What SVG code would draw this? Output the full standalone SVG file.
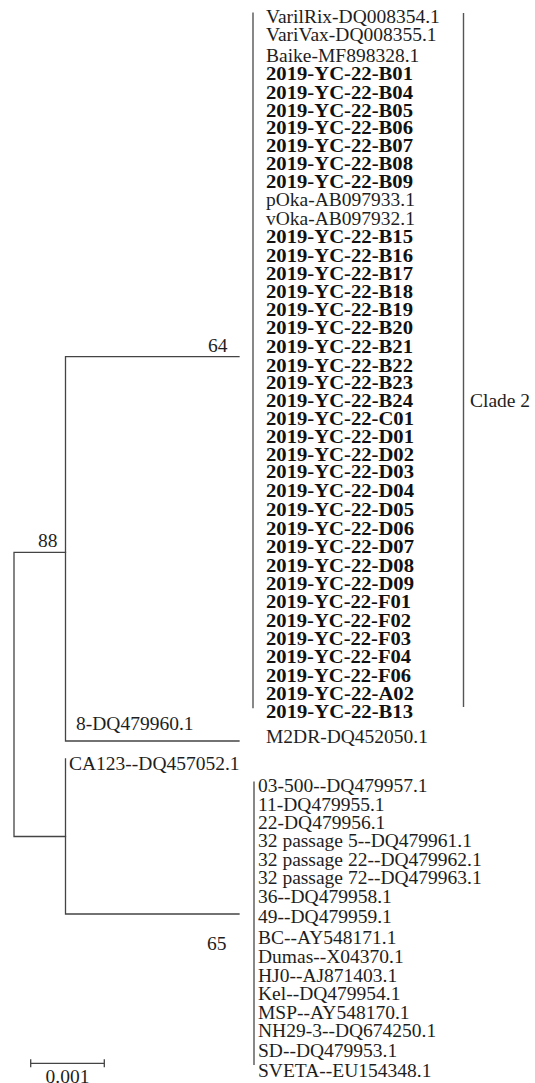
<svg xmlns="http://www.w3.org/2000/svg" width="535" height="1083" viewBox="0 0 535 1083">
<style>
.ln{stroke:#444;stroke-width:1.3;fill:none;stroke-linecap:square}
.bar{stroke:#555;stroke-width:1.4;fill:none}
.r{font-family:"Liberation Serif","Times New Roman",serif;font-size:19.5px;fill:#1e1e1e}
.b{font-family:"Liberation Serif","Times New Roman",serif;font-size:18.5px;font-weight:bold;fill:#111}
</style>
<rect width="535" height="1083" fill="#fff"/>
<g id="connectors">
<path class="ln" d="M14,552.3 V836.5 M14,552.3 H65.5 M14,836.5 H65.5"/>
<path class="ln" d="M65.5,356.7 V741 M65.5,356.7 H239 M65.5,741 H239"/>
<path class="ln" d="M65.5,759 V914 M65.5,914 H239"/>
<path class="bar" d="M253,12.5 V708.3"/>
<path class="bar" d="M463.5,13 V707"/>
<path class="bar" d="M254,781.5 V1065"/>
<path class="ln" d="M30.7,1063.3 H104.3 M30.7,1060 V1066.5 M104.3,1060 V1066.5"/>
</g>
<g id="support">
<text class="r" x="208" y="351.7">64</text>
<text class="r" x="38" y="546.7">88</text>
<text class="r" x="207" y="950">65</text>
</g>
<g id="clade2">
<text class="r" x="266" y="22.7">VarilRix-DQ008354.1</text>
<text class="r" x="266" y="41.3">VariVax-DQ008355.1</text>
<text class="r" x="266" y="61.5">Baike-MF898328.1</text>
<text class="b" x="266" y="80" textLength="147" lengthAdjust="spacingAndGlyphs">2019-YC-22-B01</text>
<text class="b" x="266" y="98.7" textLength="147" lengthAdjust="spacingAndGlyphs">2019-YC-22-B04</text>
<text class="b" x="266" y="116.7" textLength="147" lengthAdjust="spacingAndGlyphs">2019-YC-22-B05</text>
<text class="b" x="266" y="134.3" textLength="147" lengthAdjust="spacingAndGlyphs">2019-YC-22-B06</text>
<text class="b" x="266" y="152.3" textLength="147" lengthAdjust="spacingAndGlyphs">2019-YC-22-B07</text>
<text class="b" x="266" y="170" textLength="147" lengthAdjust="spacingAndGlyphs">2019-YC-22-B08</text>
<text class="b" x="266" y="188.3" textLength="147" lengthAdjust="spacingAndGlyphs">2019-YC-22-B09</text>
<text class="r" x="266" y="205.5">pOka-AB097933.1</text>
<text class="r" x="266" y="225">vOka-AB097932.1</text>
<text class="b" x="266" y="243.3" textLength="147" lengthAdjust="spacingAndGlyphs">2019-YC-22-B15</text>
<text class="b" x="266" y="261.7" textLength="147" lengthAdjust="spacingAndGlyphs">2019-YC-22-B16</text>
<text class="b" x="266" y="280" textLength="147" lengthAdjust="spacingAndGlyphs">2019-YC-22-B17</text>
<text class="b" x="266" y="298.3" textLength="147" lengthAdjust="spacingAndGlyphs">2019-YC-22-B18</text>
<text class="b" x="266" y="315.7" textLength="147" lengthAdjust="spacingAndGlyphs">2019-YC-22-B19</text>
<text class="b" x="266" y="334" textLength="147" lengthAdjust="spacingAndGlyphs">2019-YC-22-B20</text>
<text class="b" x="266" y="353.3" textLength="147" lengthAdjust="spacingAndGlyphs">2019-YC-22-B21</text>
<text class="b" x="266" y="371.7" textLength="147" lengthAdjust="spacingAndGlyphs">2019-YC-22-B22</text>
<text class="b" x="266" y="389.3" textLength="147" lengthAdjust="spacingAndGlyphs">2019-YC-22-B23</text>
<text class="b" x="266" y="406.7" textLength="147" lengthAdjust="spacingAndGlyphs">2019-YC-22-B24</text>
<text class="b" x="266" y="425" textLength="148" lengthAdjust="spacingAndGlyphs">2019-YC-22-C01</text>
<text class="b" x="266" y="442.7" textLength="148" lengthAdjust="spacingAndGlyphs">2019-YC-22-D01</text>
<text class="b" x="266" y="460.7" textLength="148" lengthAdjust="spacingAndGlyphs">2019-YC-22-D02</text>
<text class="b" x="266" y="478.3" textLength="148" lengthAdjust="spacingAndGlyphs">2019-YC-22-D03</text>
<text class="b" x="266" y="496.7" textLength="148" lengthAdjust="spacingAndGlyphs">2019-YC-22-D04</text>
<text class="b" x="266" y="515.5" textLength="148" lengthAdjust="spacingAndGlyphs">2019-YC-22-D05</text>
<text class="b" x="266" y="535" textLength="148" lengthAdjust="spacingAndGlyphs">2019-YC-22-D06</text>
<text class="b" x="266" y="553.3" textLength="148" lengthAdjust="spacingAndGlyphs">2019-YC-22-D07</text>
<text class="b" x="266" y="571.7" textLength="148" lengthAdjust="spacingAndGlyphs">2019-YC-22-D08</text>
<text class="b" x="266" y="590" textLength="148" lengthAdjust="spacingAndGlyphs">2019-YC-22-D09</text>
<text class="b" x="266" y="608.3" textLength="145" lengthAdjust="spacingAndGlyphs">2019-YC-22-F01</text>
<text class="b" x="266" y="626.7" textLength="145" lengthAdjust="spacingAndGlyphs">2019-YC-22-F02</text>
<text class="b" x="266" y="645" textLength="145" lengthAdjust="spacingAndGlyphs">2019-YC-22-F03</text>
<text class="b" x="266" y="663.3" textLength="145" lengthAdjust="spacingAndGlyphs">2019-YC-22-F04</text>
<text class="b" x="266" y="681.7" textLength="145" lengthAdjust="spacingAndGlyphs">2019-YC-22-F06</text>
<text class="b" x="266" y="700" textLength="148" lengthAdjust="spacingAndGlyphs">2019-YC-22-A02</text>
<text class="b" x="266" y="718.3" textLength="147" lengthAdjust="spacingAndGlyphs">2019-YC-22-B13</text>
<text class="r" x="470" y="406.7">Clade 2</text>
</g>
<g id="leaf-8">
<text class="r" x="76" y="730">8-DQ479960.1</text>
</g>
<g id="leaf-M2DR">
<text class="r" x="266" y="743.3">M2DR-DQ452050.1</text>
</g>
<g id="leaf-CA123">
<text class="r" x="69" y="770">CA123--DQ457052.1</text>
</g>
<g id="clade-65">
<text class="r" x="258" y="792.3">03-500--DQ479957.1</text>
<text class="r" x="258" y="810.7">11-DQ479955.1</text>
<text class="r" x="258" y="829.3">22-DQ479956.1</text>
<text class="r" x="258" y="847.3">32 passage 5--DQ479961.1</text>
<text class="r" x="258" y="866">32 passage 22--DQ479962.1</text>
<text class="r" x="258" y="884">32 passage 72--DQ479963.1</text>
<text class="r" x="258" y="903.3">36--DQ479958.1</text>
<text class="r" x="258" y="923.3">49--DQ479959.1</text>
<text class="r" x="258" y="944.3">BC--AY548171.1</text>
<text class="r" x="258" y="963.3">Dumas--X04370.1</text>
<text class="r" x="258" y="982.3">HJ0--AJ871403.1</text>
<text class="r" x="258" y="1000">Kel--DQ479954.1</text>
<text class="r" x="258" y="1019.3">MSP--AY548170.1</text>
<text class="r" x="258" y="1037.3">NH29-3--DQ674250.1</text>
<text class="r" x="258" y="1056.7">SD--DQ479953.1</text>
<text class="r" x="258" y="1076.7">SVETA--EU154348.1</text>
</g>
<g id="scale">
<text class="r" x="67.5" y="1083" text-anchor="middle">0.001</text>
</g>
</svg>
